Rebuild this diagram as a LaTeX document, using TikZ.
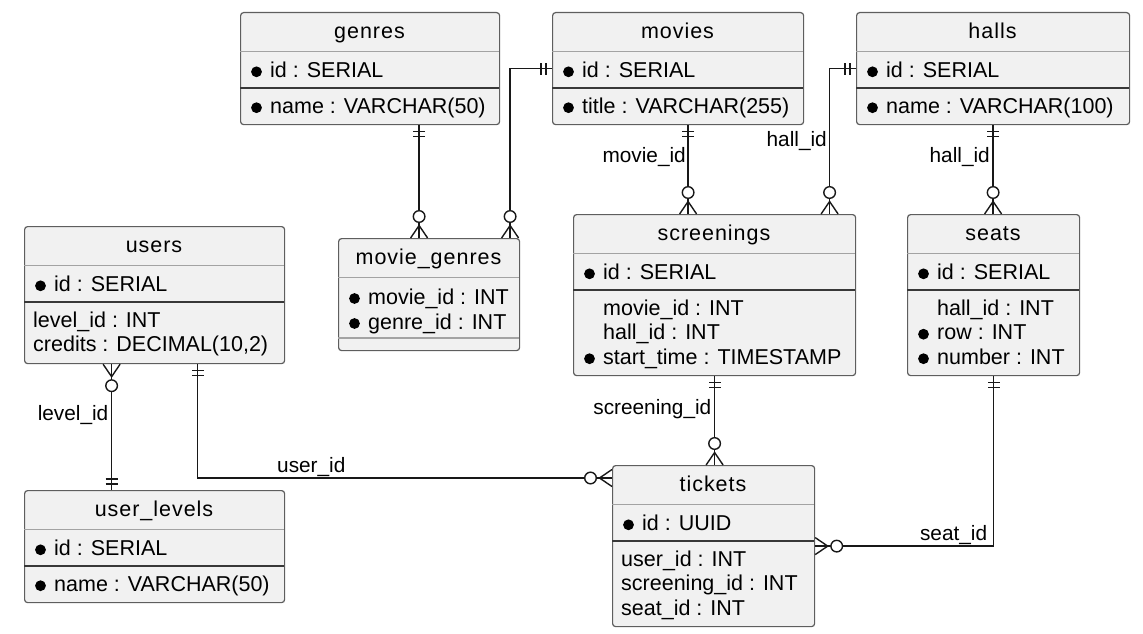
\documentclass[tikz,border=0pt]{standalone}
\usepackage{fontspec}
\setmainfont{Liberation Sans}
\newfontfamily\titlefont[LetterSpace=4.5]{Liberation Sans}
\definecolor{tfill}{HTML}{F1F1F1}
\definecolor{tborder}{HTML}{5E5E5E}
\definecolor{tsepgrey}{HTML}{A3A3A3}
\definecolor{tsepdark}{HTML}{383838}
\definecolor{relline}{HTML}{181818}

\begin{document}
\begin{tikzpicture}[x=1pt, y=-1pt,
    tbl/.style={draw=tborder, fill=tfill, line width=1.2pt, rounded corners=3pt, anchor=north west, inner sep=0pt},
    ttl/.style={anchor=base, inner sep=0pt, font=\titlefont\fontsize{21.5}{24}\selectfont},
    fld/.style={anchor=base west, inner sep=0pt, font=\fontsize{21.5}{24}\selectfont},
    lbl/.style={anchor=base east, inner sep=0pt, font=\fontsize{20.8}{24}\selectfont},
    rel/.style={draw=relline, line width=1.4pt},
    mandone/.pic={\draw[rel] (6,-6) -- (6,6) (11,-6) -- (11,6);},
    zeromany/.pic={\draw[rel] (0,-8.5) -- (12.5,0) -- (0,8.5); \draw[rel, fill=white] (21.5,0) circle (5.8pt);}
  ]
  \useasboundingbox (0,0) rectangle (1143,634);

  % tables
  \foreach \n/\t/\x/\y/\w/\h/\s/\c in {genres/genres/240/12/259/112/76/tsepdark,
      movies/movies/552/12/251/112/76/tsepdark, halls/halls/856/12/273/112/76/tsepdark,
      mg/movie\_genres/338/238/181/112/100/tsepgrey, users/users/24/226/260/137/76/tsepdark,
      levels/user\_levels/24/490/260/112/76/tsepdark, scr/screenings/573/214/282/161/76/tsepdark,
      seats/seats/907/214/172/161/76/tsepdark, tickets/tickets/612/465/202/161/76/tsepdark}
  {
    \node[tbl, minimum width=\w pt, minimum height=\h pt] (\n) at (\x,\y) {};
    \node[ttl] (\n-t) at (\x+\w/2,\y+26.5) {\t};
    \draw[draw=tsepgrey, line width=1.4pt] (\x,\y+39.5) -- (\x+\w,\y+39.5);
    \draw[draw=\c, line width=1.4pt] (\x,\y+\s) -- (\x+\w,\y+\s);
  }

  % fields
  \node[fld] (genres-id) at (270,77.3) {id : SERIAL};
  \node[fld] (genres-name) at (270,113.2) {name : VARCHAR(50)};
  \node[fld] (movies-id) at (582,77.3) {id : SERIAL};
  \node[fld] (movies-title) at (582,113.2) {title : VARCHAR(255)};
  \node[fld] (halls-id) at (886,77.3) {id : SERIAL};
  \node[fld] (halls-name) at (886,113.2) {name : VARCHAR(100)};
  \node[fld] (mg-movie) at (368,304) {movie\_id : INT};
  \node[fld] (mg-genre) at (368,329) {genre\_id : INT};
  \node[fld] (users-id) at (54,291.3) {id : SERIAL};
  \node[fld] (users-level) at (33,327.2) {level\_id : INT};
  \node[fld] (users-credits) at (33,351.7) {credits : DECIMAL(10,2)};
  \node[fld] (levels-id) at (54,555.3) {id : SERIAL};
  \node[fld] (levels-name) at (54,591.2) {name : VARCHAR(50)};
  \node[fld] (scr-id) at (603,279.3) {id : SERIAL};
  \node[fld] (scr-movie) at (603,315.2) {movie\_id : INT};
  \node[fld] (scr-hall) at (603,339.7) {hall\_id : INT};
  \node[fld] (scr-start) at (603,364.2) {start\_time : TIMESTAMP};
  \node[fld] (seats-id) at (937,279.3) {id : SERIAL};
  \node[fld] (seats-hall) at (937,315.2) {hall\_id : INT};
  \node[fld] (seats-row) at (937,339.7) {row : INT};
  \node[fld] (seats-number) at (937,364.2) {number : INT};
  \node[fld] (tickets-id) at (642,530.3) {id : UUID};
  \node[fld] (tickets-user) at (621,566.2) {user\_id : INT};
  \node[fld] (tickets-screening) at (621,590.7) {screening\_id : INT};
  \node[fld] (tickets-seat) at (621,615.2) {seat\_id : INT};

  % mandatory fields
  \foreach \f in {genres-id, genres-name, movies-id, movies-title, halls-id, halls-name,
      mg-movie, mg-genre, users-id, levels-id, levels-name, scr-id, scr-start,
      seats-id, seats-row, seats-number, tickets-id}
    \fill ([xshift=-13.5pt, yshift=5.5pt]\f.base west) circle (5.4pt);

  % relationship ends
  \coordinate (gm1) at ([xshift=49pt]genres.south);
  \coordinate (gm2) at (gm1 |- mg.north);
  \coordinate (mm2) at ([xshift=81pt]mg.north);
  \coordinate (ms1) at ([xshift=10pt]movies.south);
  \coordinate (ms2) at (ms1 |- scr.north);
  \coordinate (hs2) at ([xshift=115pt]scr.north);
  \coordinate (hz2) at (halls.south |- seats.north);
  \coordinate (ul1) at ([xshift=-43pt]users.south);
  \coordinate (ul2) at (ul1 |- levels.north);
  \coordinate (ut1) at ([xshift=43pt]users.south);
  \coordinate (ut2) at ([yshift=-13pt]tickets.north west);
  \coordinate (st2) at (scr.south |- tickets.north);

  \draw[rel] (gm1) -- (gm2);
  \draw[rel] (movies.west) -| (mm2);
  \draw[rel] (ms1) -- (ms2);
  \draw[rel] (halls.west) -| (hs2);
  \draw[rel] (halls.south) -- (hz2);
  \draw[rel] (ul1) -- (ul2);
  \draw[rel] (ut1) |- (ut2);
  \draw[rel] (scr.south) -- (st2);
  \draw[rel] (seats.south) |- (tickets.east);

  \path (gm1) pic[rotate=-90]{mandone} (gm2) pic[rotate=90]{zeromany};
  \path (movies.west) pic[rotate=180]{mandone} (mm2) pic[rotate=90]{zeromany};
  \path (ms1) pic[rotate=-90]{mandone} (ms2) pic[rotate=90]{zeromany};
  \path (halls.west) pic[rotate=180]{mandone} (hs2) pic[rotate=90]{zeromany};
  \path (halls.south) pic[rotate=-90]{mandone} (hz2) pic[rotate=90]{zeromany};
  \path (ul1) pic[rotate=-90]{zeromany} (ul2) pic[rotate=90]{mandone};
  \path (ut1) pic[rotate=-90]{mandone} (ut2) pic[rotate=180]{zeromany};
  \path (scr.south) pic[rotate=-90]{mandone} (st2) pic[rotate=90]{zeromany};
  \path (seats.south) pic[rotate=-90]{mandone} (tickets.east) pic{zeromany};

  % labels
  \node[lbl] (movie-lbl) at (686,162) {movie\_id};
  \node[lbl] (hall-lbl-a) at (827,146.5) {hall\_id};
  \node[lbl] (hall-lbl-b) at (990,162.3) {hall\_id};
  \node[lbl] (level-lbl) at (108.5,420) {level\_id};
  \node[lbl, anchor=base west] (user-lbl) at (277,472.3) {user\_id};
  \node[lbl] (screening-lbl) at (711.5,414) {screening\_id};
  \node[lbl] (seat-lbl) at (987.3,540.7) {seat\_id};
\end{tikzpicture}
\end{document}
